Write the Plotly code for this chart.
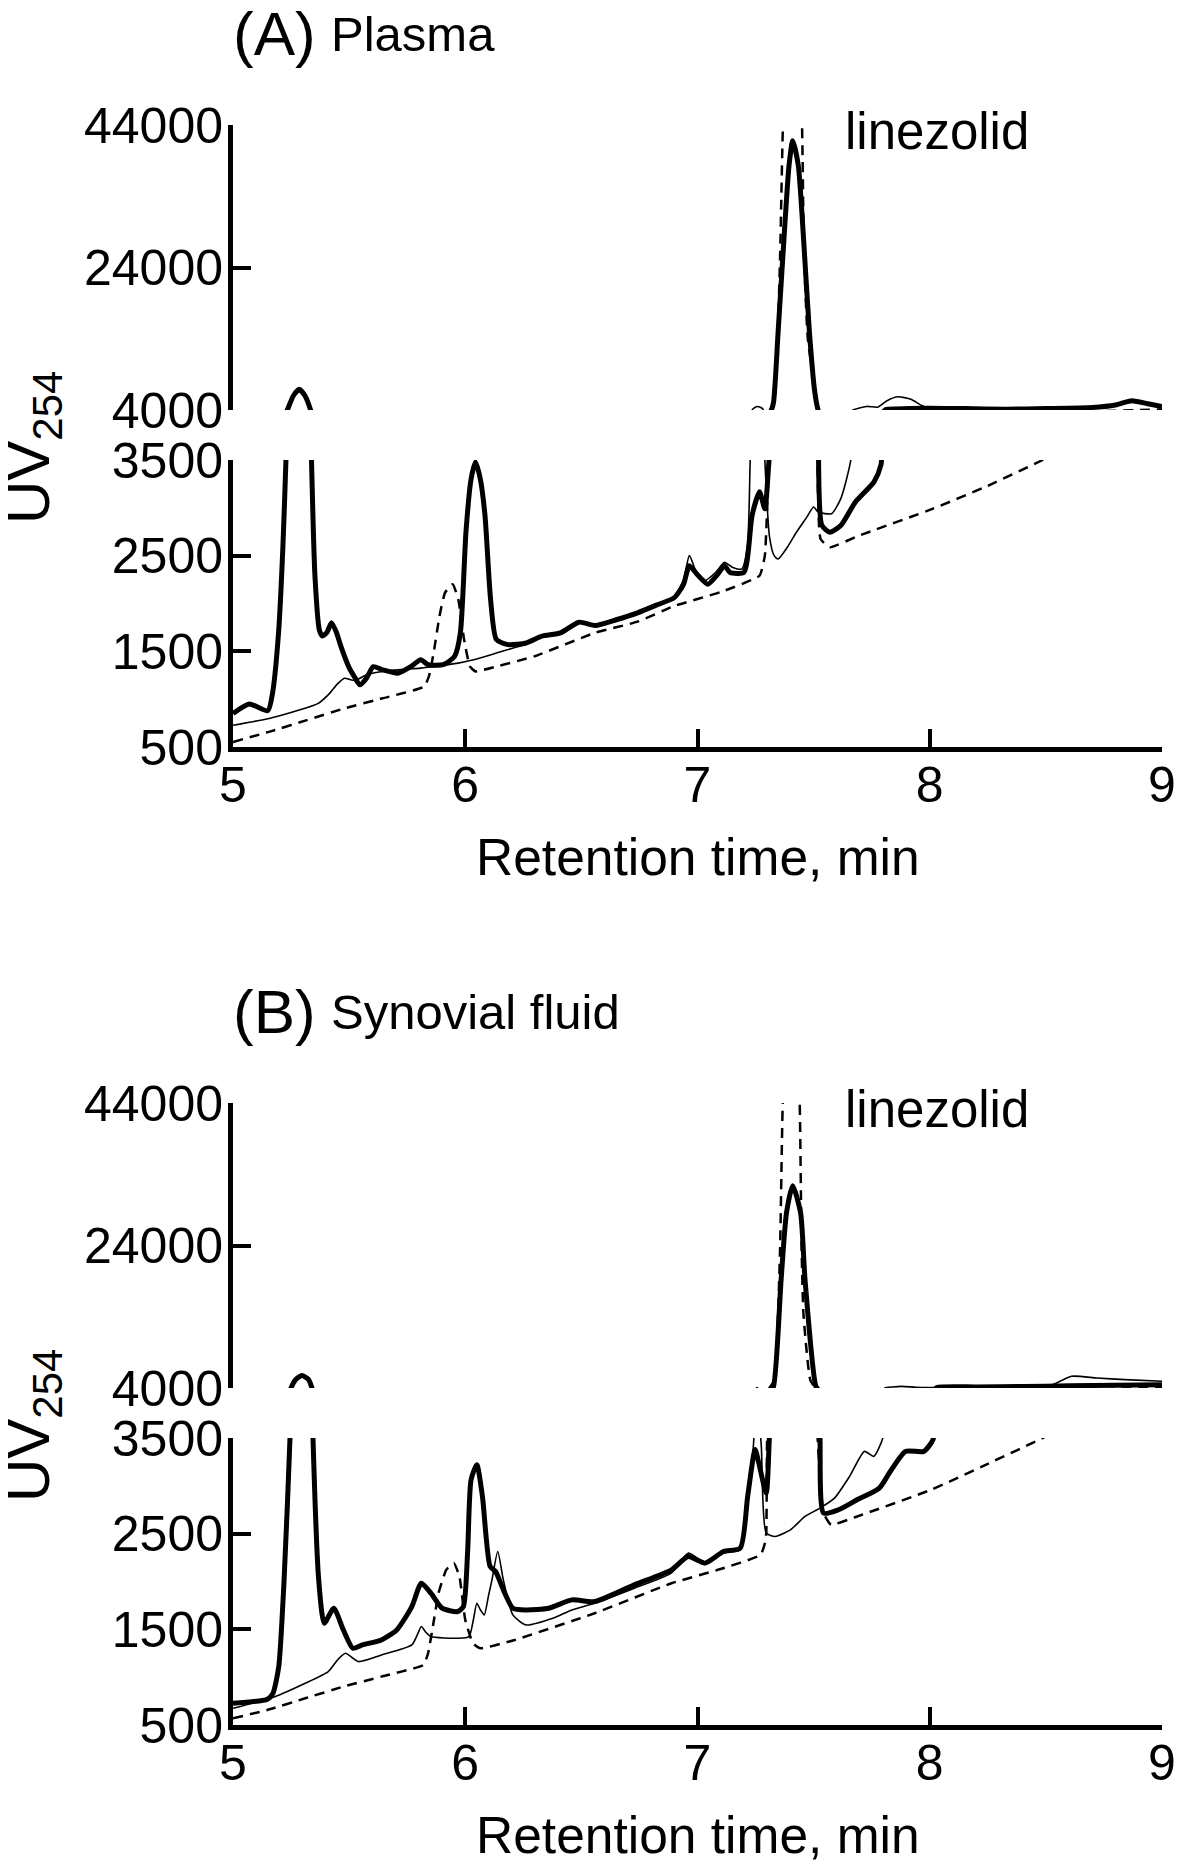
import plotly.graph_objects as go

# Retention time (min) and UV254 response

# (A) Plasma - patient sample (thick line)
plasma_sample_t = [5.00, 5.07, 5.15, 5.17, 5.196, 5.215, 5.228, 5.234, 5.26, 5.285, 5.31, 5.334,
                   5.338, 5.353, 5.372, 5.385, 5.405, 5.424, 5.445, 5.465, 5.50, 5.522, 5.546, 5.575,
                   5.604, 5.644, 5.71, 5.767, 5.808, 5.84, 5.905, 5.954, 5.979, 6.003, 6.025, 6.044,
                   6.065, 6.085, 6.109, 6.134, 6.183, 6.264, 6.33, 6.41, 6.49, 6.56, 6.65, 6.742,
                   6.82, 6.90, 6.94, 6.965, 7.0, 7.045, 7.085, 7.116, 7.14, 7.2, 7.235, 7.267,
                   7.29, 7.305, 7.315, 7.327, 7.347, 7.374, 7.394, 7.41, 7.434, 7.455, 7.482, 7.505,
                   7.52, 7.535, 7.57, 7.617, 7.68, 7.76, 7.79, 7.81, 7.855, 7.98, 8.15, 8.33,
                   8.5, 8.7, 8.8, 8.87, 8.95, 9.0]
plasma_sample = [850, 950, 880, 1060, 1690, 2600, 3500, 4000, 6000, 6900, 6000, 4000,
                 3500, 2280, 1720, 1660, 1700, 1800, 1700, 1550, 1330, 1237, 1150, 1220,
                 1340, 1307, 1272, 1342, 1412, 1360, 1360, 1447, 1693, 2746, 3300, 3480,
                 3300, 2920, 2044, 1623, 1570, 1588, 1658, 1693, 1805, 1770, 1830, 1903,
                 1980, 2061, 2200, 2395, 2300, 2202, 2300, 2395, 2325, 2325, 2921, 3167,
                 2990, 3400, 3800, 5000, 14900, 28900, 38300, 41800, 38300, 28900, 14900, 6500,
                 3900, 2820, 2745, 2816, 3061, 3272, 3450, 4050, 4150, 4250, 4200, 4120,
                 4200, 4350, 4700, 5300, 4800, 4500]

# (A) Plasma - blank (thin line)
plasma_blank_t = [5.00, 5.155, 5.285, 5.367, 5.416, 5.45, 5.48, 5.51, 5.53, 5.58, 5.644, 5.73,
                  5.808, 5.89, 5.97, 6.036, 6.134, 6.2, 6.264, 6.33, 6.41, 6.49, 6.56, 6.65,
                  6.742, 6.82, 6.90, 6.94, 6.965, 6.995, 7.03, 7.08, 7.116, 7.15, 7.19, 7.215,
                  7.227, 7.24, 7.26, 7.28, 7.29, 7.31, 7.33, 7.347, 7.39, 7.426, 7.47, 7.5,
                  7.52, 7.577, 7.617, 7.66, 7.67, 7.728, 7.776, 7.816, 7.863, 7.919, 7.967, 7.998,
                  8.1, 8.3, 8.5, 8.7, 8.8, 8.87, 8.95, 9.0]
plasma_blank = [728, 798, 886, 956, 1061, 1160, 1219, 1200, 1200, 1260, 1290, 1310,
                1325, 1350, 1377, 1412, 1482, 1530, 1575, 1650, 1693, 1800, 1770, 1840,
                1915, 1990, 2070, 2250, 2500, 2330, 2237, 2330, 2430, 2380, 2360, 2600,
                3500, 4200, 4500, 4200, 3500, 2700, 2500, 2465, 2600, 2745, 2900, 3009,
                2956, 2939, 3096, 3500, 4000, 4500, 4400, 5300, 5850, 5500, 4600, 4250,
                4250, 4150, 4200, 4350, 4700, 5100, 4750, 4500]

# (A) Plasma - linezolid standard (dashed line)
plasma_std_t = [5.00, 5.155, 5.318, 5.48, 5.644, 5.824, 5.845, 5.865, 5.889, 5.913, 5.946, 5.97,
                5.995, 6.02, 6.044, 6.134, 6.297, 6.558, 6.742, 6.90, 7.1, 7.267, 7.29, 7.3,
                7.307, 7.33, 7.345, 7.356, 7.368, 7.41, 7.45, 7.458, 7.475, 7.515, 7.53, 7.57,
                7.696, 8.014, 8.25, 8.5, 8.7, 8.9, 9.0]
plasma_std = [553, 658, 781, 904, 1009, 1132, 1250, 1500, 1868, 2114, 2202, 2044,
              1623, 1342, 1290, 1342, 1447, 1693, 1810, 1974, 2120, 2290, 2500, 3000,
              3500, 5500, 14000, 26000, 44000, 70000, 44000, 26000, 14000, 5000, 2675, 2588,
              2710, 2991, 3230, 3517, 3800, 4000, 4080]

# (B) Synovial fluid - patient sample (thick line)
synovial_sample_t = [5.00, 5.148, 5.172, 5.197, 5.22, 5.246, 5.25, 5.27, 5.297, 5.325, 5.34, 5.344,
                     5.369, 5.393, 5.434, 5.475, 5.516, 5.557, 5.639, 5.705, 5.77, 5.811, 5.852, 5.90,
                     5.967, 5.992, 6.01, 6.025, 6.05, 6.074, 6.107, 6.131, 6.164, 6.205, 6.262, 6.36,
                     6.459, 6.557, 6.728, 6.888, 6.96, 7.032, 7.112, 7.184, 7.216, 7.248, 7.264, 7.296,
                     7.31, 7.327, 7.36, 7.383, 7.41, 7.444, 7.463, 7.51, 7.527, 7.543, 7.607, 7.687,
                     7.783, 7.83, 7.895, 7.974, 8.014, 8.03, 8.2, 8.4, 8.6, 8.8, 9.0]
synovial_sample = [727, 769, 831, 1110, 2017, 3535, 4000, 5200, 5750, 5200, 4000, 3535,
                   2017, 1564, 1721, 1494, 1302, 1337, 1389, 1494, 1738, 1982, 1878, 1721,
                   1686, 1738, 2300, 3064, 3220, 2889, 2157, 2104, 1913, 1721, 1703, 1721,
                   1808, 1790, 1965, 2122, 2261, 2192, 2314, 2349, 2889, 3380, 3238, 2924,
                   3535, 4200, 19200, 28560, 32400, 28560, 19200, 4200, 3535, 2715, 2750, 2854,
                   2977, 3150, 3360, 3360, 3482, 4050, 4150, 4200, 4300, 4400, 4470]

# (B) Synovial fluid - blank (thin line)
synovial_blank_t = [5.00, 5.18, 5.311, 5.41, 5.45, 5.484, 5.54, 5.639, 5.77, 5.795, 5.811, 5.83,
                    5.852, 5.967, 6.016, 6.035, 6.05, 6.066, 6.082, 6.1, 6.115, 6.14, 6.164, 6.205,
                    6.262, 6.377, 6.459, 6.557, 6.728, 6.888, 6.96, 7.032, 7.112, 7.184, 7.216, 7.24,
                    7.248, 7.256, 7.275, 7.296, 7.335, 7.40, 7.463, 7.527, 7.59, 7.655, 7.719, 7.759,
                    7.8, 7.807, 7.84, 7.88, 7.94, 8.0, 8.2, 8.4, 8.53, 8.61, 8.72, 8.84, 9.0]
synovial_blank = [674, 796, 936, 1058, 1180, 1250, 1163, 1232, 1337, 1450, 1529, 1470,
                  1424, 1407, 1424, 1600, 1773, 1700, 1651, 1850, 2017, 2314, 2017, 1651,
                  1546, 1616, 1703, 1773, 1930, 2090, 2296, 2200, 2300, 2331, 2800, 3400,
                  3700, 4050, 3400, 2506, 2471, 2540, 2680, 2767, 2872, 3099, 3360, 3308,
                  3517, 4000, 4150, 4230, 4100, 4050, 4100, 4200, 4500, 5640, 5400, 5170, 4940]

# (B) Synovial fluid - linezolid standard (dashed line)
synovial_std_t = [5.00, 5.148, 5.311, 5.475, 5.639, 5.82, 5.84, 5.862, 5.885, 5.918, 5.951, 5.975,
                  6.0, 6.033, 6.066, 6.213, 6.557, 6.888, 7.1, 7.272, 7.29, 7.296, 7.30, 7.33,
                  7.347, 7.356, 7.367, 7.404, 7.44, 7.448, 7.456, 7.487, 7.543, 7.575, 7.687, 8.006,
                  8.25, 8.5, 8.7, 8.9, 9.0]
synovial_std = [570, 657, 779, 901, 1006, 1128, 1250, 1550, 1878, 2122, 2192, 2052,
                1599, 1355, 1302, 1389, 1668, 1982, 2130, 2279, 2400, 2506, 3535, 5000,
                14500, 24000, 44000, 70000, 44000, 24000, 14500, 5000, 2715, 2593, 2680, 2959,
                3230, 3517, 3800, 4000, 4080]

x_ticks = [5, 6, 7, 8, 9]
low_ticks = [500, 1500, 2500, 3500]
high_ticks = [4000, 24000, 44000]

W, H = 1180, 1864
FONT = "Liberation Sans, Arial, sans-serif"


def py(pix):
    # pixel row -> paper fraction
    return 1 - pix / H


def px(pix):
    return pix / W


styles = {
    "sample": dict(color="black", width=5, shape="spline", smoothing=0.6),
    "blank": dict(color="black", width=1.6, shape="spline", smoothing=0.6),
    "std": dict(color="black", width=2.5, dash="10px,7px", shape="spline", smoothing=0.4),
}

panels = [
    # xaxis, lower y, upper y, series
    ("x", "y", "y2", [
        (plasma_std_t, plasma_std, "std"),
        (plasma_blank_t, plasma_blank, "blank"),
        (plasma_sample_t, plasma_sample, "sample"),
    ]),
    ("x2", "y3", "y4", [
        (synovial_std_t, synovial_std, "std"),
        (synovial_blank_t, synovial_blank, "blank"),
        (synovial_sample_t, synovial_sample, "sample"),
    ]),
]

fig = go.Figure()
for xa, ylo, yhi, series in panels:
    for t, v, kind in series:
        for ya in (ylo, yhi):
            fig.add_trace(go.Scatter(
                x=t, y=v, mode="lines", xaxis=xa, yaxis=ya,
                line=styles[kind], showlegend=False, hoverinfo="skip",
            ))

axis_common = dict(
    showline=True, linewidth=5, linecolor="black",
    ticks="inside", ticklen=18, tickwidth=4, tickcolor="black",
    showgrid=False, zeroline=False, automargin=False,
    tickformat="d",
    tickfont=dict(family=FONT, size=50, color="black"),
)
# short outward ticks marking the axis break
break_tick = dict(
    showline=False, ticks="outside", ticklen=13, tickwidth=4, tickcolor="black",
    showticklabels=False, showgrid=False, zeroline=False, automargin=False,
)

x_dom = [px(233), px(1162)]
off = 978  # panel B sits this many pixels below panel A

fig.update_layout(
    template="none",
    width=W, height=H,
    margin=dict(l=0, r=0, t=0, b=0, pad=0, autoexpand=False),
    paper_bgcolor="white", plot_bgcolor="rgba(0,0,0,0)",
    font=dict(family=FONT, color="black"),
    xaxis=dict(domain=x_dom, range=[5, 9], anchor="y", tickvals=x_ticks,
               ticklabelstandoff=-10, **axis_common),
    yaxis=dict(domain=[py(747), py(460)], range=[500, 3500], anchor="x",
               tickvals=low_ticks, ticklabelstandoff=-5, **axis_common),
    yaxis2=dict(domain=[py(410), py(125)], range=[4000, 44000], anchor="x",
                tickvals=high_ticks, ticklabelstandoff=-5, **axis_common),
    xaxis2=dict(domain=x_dom, range=[5, 9], anchor="y3", tickvals=x_ticks,
                ticklabelstandoff=-10, **axis_common),
    yaxis3=dict(domain=[py(747 + off), py(460 + off)], range=[500, 3500], anchor="x2",
                tickvals=low_ticks, ticklabelstandoff=-5, **axis_common),
    yaxis4=dict(domain=[py(410 + off), py(125 + off)], range=[4000, 44000], anchor="x2",
                tickvals=high_ticks, ticklabelstandoff=-5, **axis_common),
    yaxis5=dict(overlaying="y", anchor="x", range=[500, 3500], tickvals=[3500], **break_tick),
    yaxis6=dict(overlaying="y2", anchor="x", range=[4000, 44000], tickvals=[4000], **break_tick),
    yaxis7=dict(overlaying="y3", anchor="x2", range=[500, 3500], tickvals=[3500], **break_tick),
    yaxis8=dict(overlaying="y4", anchor="x2", range=[4000, 44000], tickvals=[4000], **break_tick),
)

annotations = []
for dy, letter, name in [(0, "(A)", "Plasma"), (off, "(B)", "Synovial fluid")]:
    annotations += [
        dict(text=letter, x=px(231), y=py(33 + dy), xanchor="left", yanchor="middle",
             font=dict(family=FONT, size=62)),
        dict(text=name, x=px(329), y=py(34 + dy), xanchor="left", yanchor="middle",
             font=dict(family=FONT, size=49)),
        dict(text="linezolid", x=px(843), y=py(131 + dy), xanchor="left", yanchor="middle",
             font=dict(family=FONT, size=51)),
        dict(text="Retention time, min", x=px(698), y=py(857 + dy), xanchor="center",
             yanchor="middle", font=dict(family=FONT, size=51.5)),
        dict(text="UV<sub>254</sub>", x=px(33), y=py(448 + dy), xanchor="center",
             yanchor="middle", textangle=-90, font=dict(family=FONT, size=60)),
    ]
for a in annotations:
    a.update(xref="paper", yref="paper", showarrow=False)
fig.update_layout(annotations=annotations)

# drop the default page margin so the figure fills the window exactly
fig.write_html(
    "out.html",
    config={"displayModeBar": False},
    post_script="document.body.style.margin='0';document.body.style.overflow='hidden';",
)
